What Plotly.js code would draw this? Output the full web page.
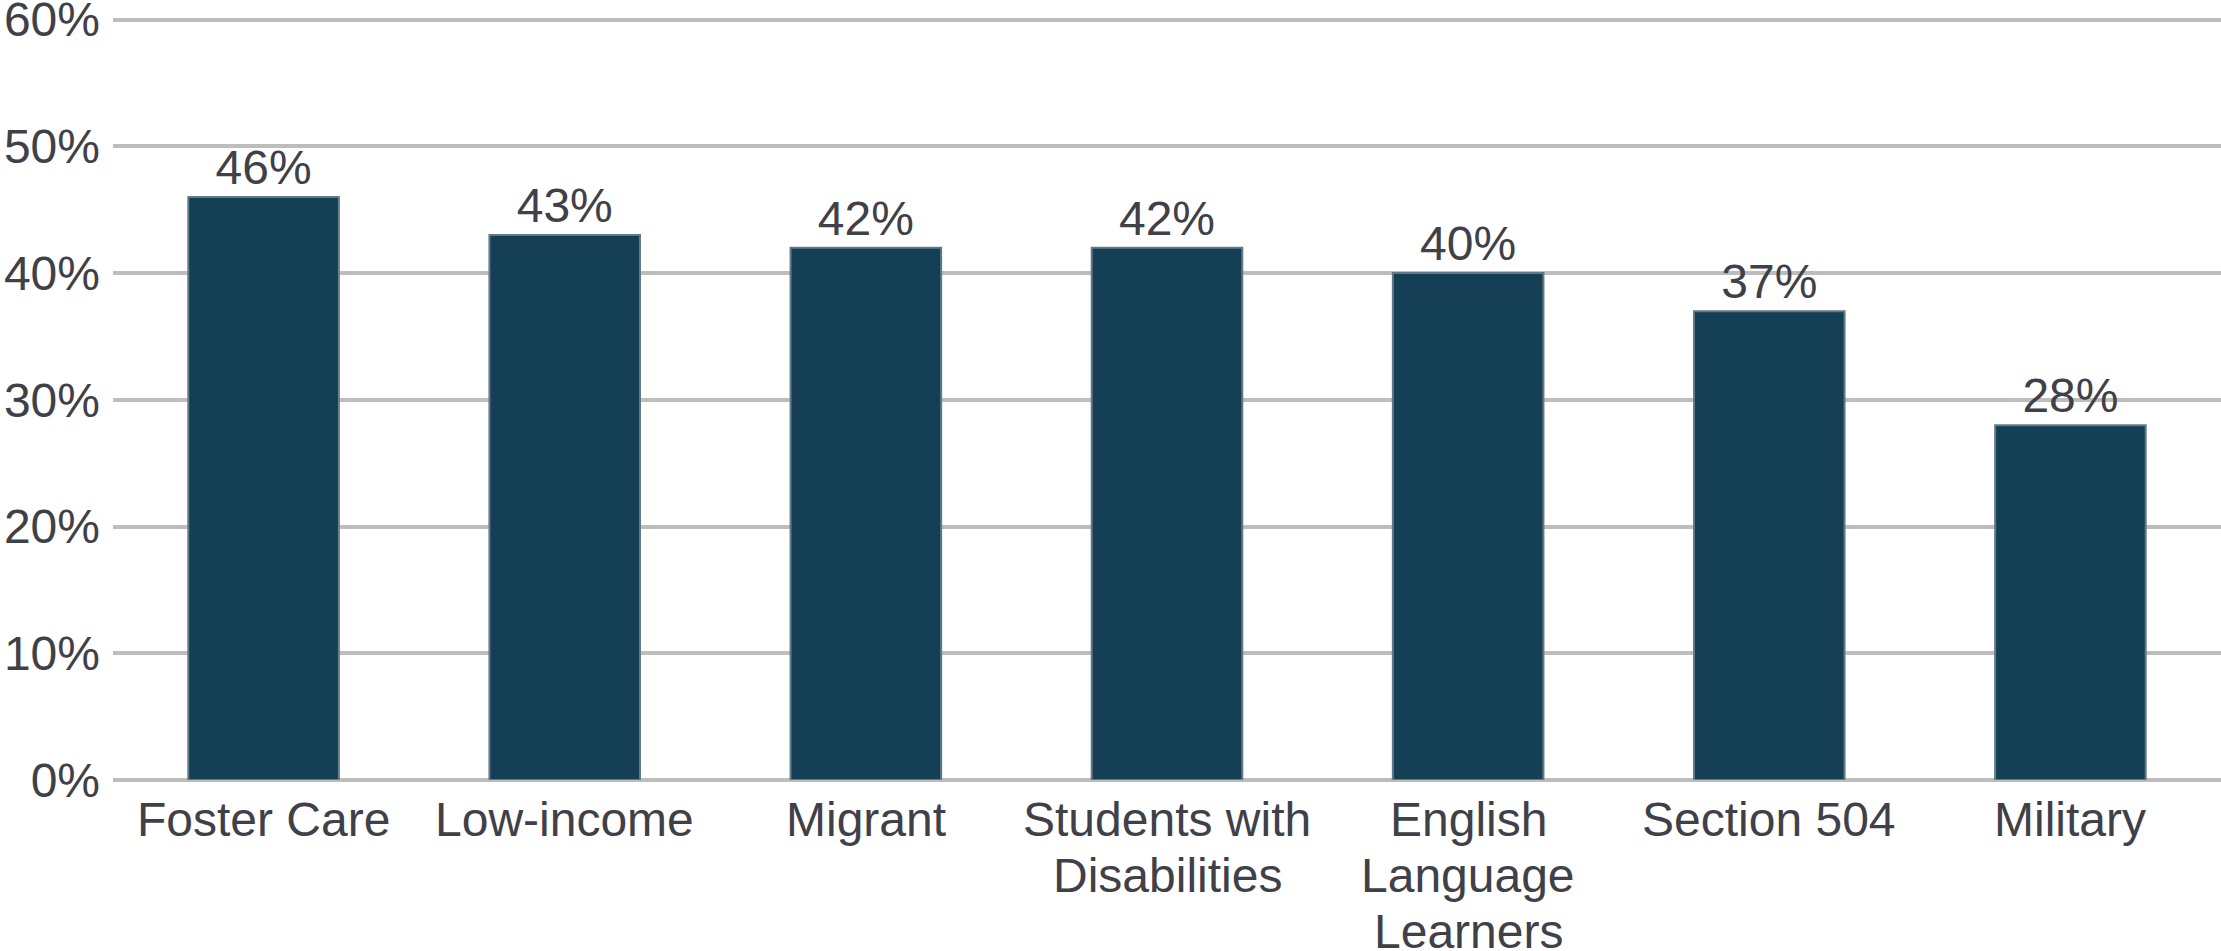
<!DOCTYPE html>
<html>
<head>
<meta charset="utf-8">
<script src="https://cdn.plot.ly/plotly-3.0.1.min.js"></script>
<style>html,body{margin:0;padding:0;background:#fff;}#chart{width:2221px;height:951px;}</style>
</head>
<body>
<div id="chart"></div>
<script>
const categories = ["Foster Care", "Low-income", "Migrant", "Students with<br>Disabilities", "English<br>Language<br>Learners", "Section 504", "Military"];
const values = [0.46, 0.43, 0.42, 0.42, 0.40, 0.37, 0.28];
const yTickVals = [0, 0.1, 0.2, 0.3, 0.4, 0.5, 0.6];
const yTickText = ["0%", "10%", "20%", "30%", "40%", "50%", "60%"];

const textColor = "#404048";
const fontFamily = "'Liberation Sans', Arial, sans-serif";
const fontSize = 48;
const labelLineStep = 56;

const trace = {
  type: "bar",
  x: categories,
  y: values,
  marker: { color: "#153f55", line: { color: "#627a88", width: 2 } },
  texttemplate: "%{y:.0%}",
  textposition: "outside",
  cliponaxis: false,
  textfont: { family: fontFamily, size: fontSize, color: textColor },
  hoverinfo: "none"
};

// category labels drawn line by line so their line spacing matches the reference
const annotations = [];
categories.forEach(function (cat) {
  cat.split("<br>").forEach(function (line, j) {
    annotations.push({
      x: cat, y: 0, xref: "x", yref: "y",
      text: line, showarrow: false,
      xanchor: "center", yanchor: "top",
      yshift: -(11 + j * labelLineStep),
      font: { family: fontFamily, size: fontSize, color: textColor }
    });
  });
});

const layout = {
  width: 2221,
  height: 951,
  margin: { l: 113, r: 0, t: 7, b: 171, pad: 0 },
  paper_bgcolor: "#ffffff",
  plot_bgcolor: "#ffffff",
  bargap: 0.5,
  showlegend: false,
  font: { family: fontFamily, size: fontSize, color: textColor },
  annotations: annotations,
  xaxis: {
    type: "category",
    showgrid: false,
    showline: false,
    ticks: "",
    showticklabels: false,
    fixedrange: true
  },
  yaxis: {
    range: [0, 0.61],
    tickvals: yTickVals,
    ticktext: yTickText,
    showgrid: true,
    gridcolor: "#bdbdbd",
    gridwidth: 4,
    zeroline: true,
    zerolinecolor: "#bdbdbd",
    zerolinewidth: 4,
    showline: false,
    ticks: "",
    ticklabelstandoff: 12,
    ticklabeloverflow: "allow",
    tickfont: { family: fontFamily, size: fontSize, color: textColor },
    fixedrange: true
  }
};

Plotly.newPlot("chart", [trace], layout, { displayModeBar: false, staticPlot: true });
</script>
</body>
</html>
